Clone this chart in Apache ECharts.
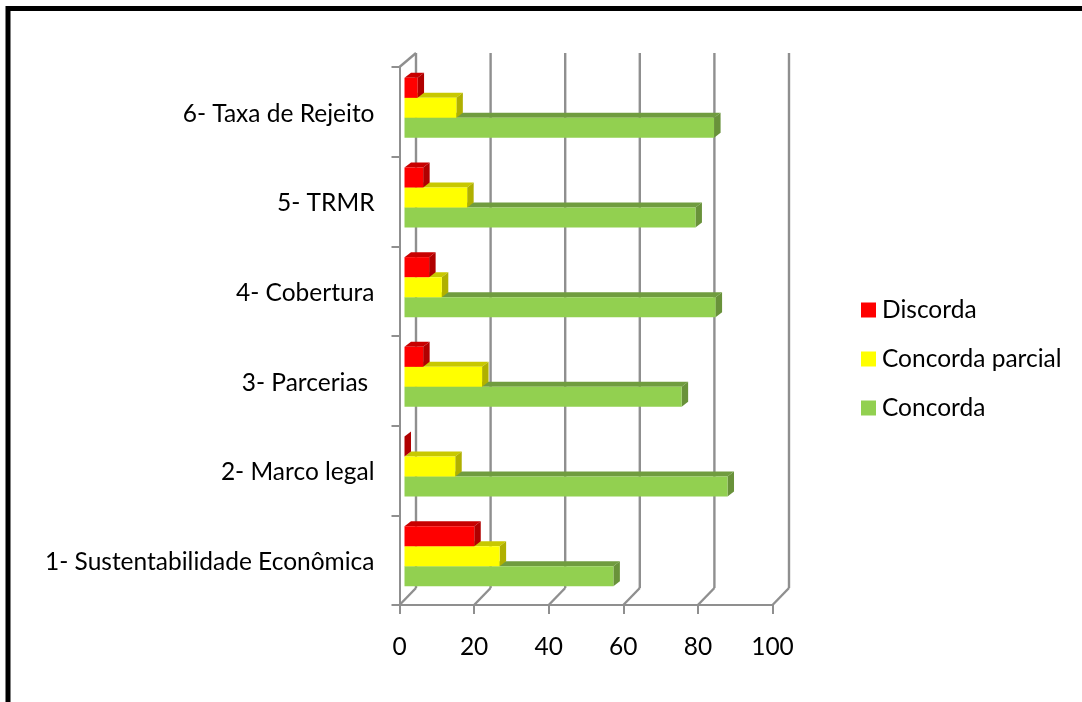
<!DOCTYPE html>
<html>
<head>
<meta charset="utf-8">
<style>html,body{margin:0;padding:0;background:#fff}#chart{width:1082px;height:702px}</style>
<script src="https://cdn.jsdelivr.net/npm/echarts@6/dist/echarts.min.js"></script>
</head>
<body>
<div id="chart"></div>
<script>
const categories = ['1- Sustentabilidade Econômica', '2- Marco legal', '3- Parcerias ', '4- Cobertura', '5- TRMR', '6- Taxa de Rejeito'];
const concorda = [56, 86.6, 74.3, 83.4, 78, 83];
const concordaParcial = [25.5, 13.6, 20.8, 10, 16.8, 13.9];
const discorda = [18.7, 0, 5, 6.6, 5, 3.5];
const xTicks = [0, 20, 40, 60, 80, 100];

const FONT = 'Lato';
const FONT_SIZE = 24.5;
const GREY = '#8f8f8f';
const chart = echarts.init(document.getElementById('chart'));

function barSeries(name, values, slot, front, top, side) {
  return {
    name, type: 'custom', coordinateSystem: 'cartesian2d', z: 5,
    itemStyle: { color: front },
    data: values.map((v, i) => [v, i]),
    encode: { x: 0, y: 1 },
    renderItem(params, api) {
      const zero = api.coord([0, api.value(1)]);
      const end = api.coord([api.value(0), api.value(1)]);
      const band = api.size([0, 1])[1];
      const h = band * 0.2232;
      const x0 = zero[0] + 5, x1 = end[0] + 5;
      const yTop = end[1] - 4 + (slot - 1.5) * h;
      const yBot = yTop + h;
      const dx = 6.5, dy = 5;
      const poly = (points, fill) => ({ type: 'polygon', shape: { points }, style: { fill } });
      return { type: 'group', children: [
        poly([[x0, yTop], [x0 + dx, yTop - dy], [x1 + dx, yTop - dy], [x1, yTop]], top),
        poly([[x1, yTop], [x1 + dx, yTop - dy], [x1 + dx, yBot - dy], [x1, yBot]], side),
        { type: 'rect', shape: { x: x0, y: yTop, width: x1 - x0, height: h }, style: { fill: front } }
      ] };
    }
  };
}

const wallSeries = {
  name: 'walls', type: 'custom', coordinateSystem: 'cartesian2d', z: 1, silent: true,
  data: xTicks.map(t => [t, 0]),
  encode: { x: 0, y: 1 },
  renderItem(params, api) {
    const v = api.value(0);
    const x = api.coord([v, 0])[0];
    const rect = params.coordSys;
    const yFloor = rect.y + rect.height, yTop = rect.y;
    const style = { stroke: GREY, lineWidth: 2.4, fill: null };
    const line = (x1, y1, x2, y2) => ({ type: 'line', shape: { x1, y1, x2, y2 }, style });
    const kids = [
      line(x + 16.5, yTop - 14, x + 16.5, yFloor - 17),
      line(x, yFloor, x + 16.5, yFloor - 17)
    ];
    if (v === 0) kids.push(line(x, yTop, x + 16.5, yTop - 14));
    return { type: 'group', children: kids };
  }
};

chart.setOption({
  animation: false,
  backgroundColor: '#fff',
  textStyle: { fontFamily: FONT },
  grid: { left: 399.5, top: 67, width: 373, height: 538 },
  xAxis: {
    type: 'value', min: 0, max: 100, interval: 20,
    splitLine: { show: false },
    axisLine: { show: true, lineStyle: { color: GREY, width: 2 } },
    axisTick: { show: true, length: 9, lineStyle: { color: GREY, width: 2 } },
    axisLabel: { color: '#000', fontSize: FONT_SIZE, fontFamily: FONT, margin: 30, showMaxLabel: true, showMinLabel: true }
  },
  yAxis: {
    type: 'category', data: categories,
    axisLine: { show: true, lineStyle: { color: GREY, width: 2 } },
    axisTick: { show: true, length: 8, lineStyle: { color: GREY, width: 2 } },
    axisLabel: {
      color: '#000', fontSize: FONT_SIZE, fontFamily: FONT, margin: 25,
      formatter: v => '{t|' + v + '}',
      rich: { t: { color: '#000', fontSize: FONT_SIZE, fontFamily: FONT, padding: [4, 0, 0, 0] } }
    }
  },
  legend: {
    orient: 'vertical', left: 856, top: 292.5, itemWidth: 15, itemHeight: 15, itemGap: 24,
    icon: 'rect',
    data: ['Discorda', 'Concorda parcial', 'Concorda'],
    textStyle: { color: '#000', fontSize: FONT_SIZE, lineHeight: 24, fontFamily: FONT, padding: [0, 0, 0, 1] }
  },
  graphic: [{
    type: 'rect', silent: true,
    shape: { x: 8, y: 8.5, width: 1300, height: 1000 },
    style: { fill: null, stroke: '#000', lineWidth: 5 }
  }],
  series: [
    wallSeries,
    barSeries('Concorda', concorda, 2, '#92D050', '#709C3F', '#69923A'),
    barSeries('Concorda parcial', concordaParcial, 1, '#FFFF00', '#C8C800', '#B0B000'),
    barSeries('Discorda', discorda, 0, '#FF0000', '#C80000', '#B00000')
  ]
});
</script>
</body>
</html>
